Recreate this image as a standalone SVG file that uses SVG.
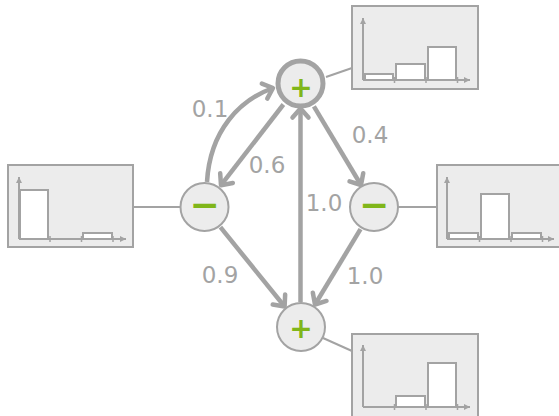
<svg xmlns="http://www.w3.org/2000/svg" width="559" height="416" viewBox="0 0 559 416">
<style>
.box{fill:#ececec;stroke:#a3a3a3;stroke-width:2}
.ax{fill:none;stroke:#a3a3a3;stroke-width:2}
.bar{fill:#ffffff;stroke:#a3a3a3;stroke-width:2}
.tick{stroke:#a3a3a3;stroke-width:1.5}
.link{stroke:#a3a3a3;stroke-width:2;fill:none}
.edge{stroke:#a3a3a3;stroke-width:4.5;fill:none;marker-end:url(#arr)}
.node{fill:#ececec;stroke:#a3a3a3;stroke-width:2}
.sym{fill:#80b61a;font-family:"DejaVu Sans",sans-serif;font-weight:bold;text-anchor:middle}
.lbl{fill:#a3a3a3;font-family:"DejaVu Sans",sans-serif;font-size:23px;text-anchor:middle}
</style>
<defs>
<marker id="arr" markerUnits="userSpaceOnUse" markerWidth="30" markerHeight="30" refX="0" refY="0" orient="auto" overflow="visible">
<path d="M-9,-8 L0,0 L-9,8" fill="none" stroke="#a3a3a3" stroke-width="4.5" stroke-linecap="round" stroke-linejoin="round"/>
</marker>
<marker id="ah" markerUnits="userSpaceOnUse" markerWidth="10" markerHeight="10" refX="0" refY="0" orient="auto" overflow="visible">
<path d="M-6,-3 L0,0 L-6,3 Z" fill="#a3a3a3"/>
</marker>
</defs>

<g id="connectors">
<line class="link" x1="133" y1="207" x2="180" y2="207"/>
<line class="link" x1="326" y1="77" x2="352" y2="68"/>
<line class="link" x1="398" y1="207" x2="437" y2="207"/>
<line class="link" x1="323" y1="338" x2="352" y2="351"/>
<path class="edge" d="M207,182 C210,130 240,100 273,88"/>
<line class="edge" x1="283.4" y1="104.5" x2="221" y2="185.2"/>
<line class="edge" x1="313.9" y1="106.3" x2="361" y2="185"/>
<line class="edge" x1="220.4" y1="227.2" x2="284.6" y2="306.5"/>
<line class="edge" x1="360.5" y1="229.2" x2="315" y2="304.5"/>
<line class="edge" x1="300.5" y1="302" x2="300.5" y2="108.5"/>
<text class="lbl" x="210" y="117">0.1</text>
<text class="lbl" x="267" y="173">0.6</text>
<text class="lbl" x="370" y="143">0.4</text>
<text class="lbl" x="324" y="211">1.0</text>
<text class="lbl" x="220" y="283">0.9</text>
<text class="lbl" x="365" y="284">1.0</text>
</g>

<g id="hist-left">
<rect class="box" x="8" y="165" width="125" height="82"/>
<rect class="bar" x="20" y="190" width="28" height="49"/>
<rect class="bar" x="83" y="233" width="29" height="6"/>
<line class="tick" x1="50" y1="236" x2="50" y2="242"/>
<line class="tick" x1="81.5" y1="236" x2="81.5" y2="242"/>
<line class="tick" x1="113" y1="236" x2="113" y2="242"/>
<path class="ax" d="M19,239 L19,177" marker-end="url(#ah)"/>
<path class="ax" d="M19,239 L126,239" marker-end="url(#ah)"/>
</g>

<g id="hist-top">
<rect class="box" x="352" y="6" width="126" height="83"/>
<rect class="bar" x="365" y="74" width="28" height="6"/>
<rect class="bar" x="396" y="64" width="29" height="16"/>
<rect class="bar" x="428" y="47" width="28" height="33"/>
<line class="tick" x1="394.5" y1="77" x2="394.5" y2="83"/>
<line class="tick" x1="426" y1="77" x2="426" y2="83"/>
<line class="tick" x1="457.5" y1="77" x2="457.5" y2="83"/>
<path class="ax" d="M363,80 L363,18" marker-end="url(#ah)"/>
<path class="ax" d="M363,80 L470,80" marker-end="url(#ah)"/>
</g>

<g id="hist-right">
<rect class="box" x="437" y="165" width="126" height="82"/>
<rect class="bar" x="449" y="233" width="29" height="6"/>
<rect class="bar" x="481" y="194" width="28" height="45"/>
<rect class="bar" x="512" y="233" width="29" height="6"/>
<line class="tick" x1="479.5" y1="236" x2="479.5" y2="242"/>
<line class="tick" x1="511" y1="236" x2="511" y2="242"/>
<line class="tick" x1="542.5" y1="236" x2="542.5" y2="242"/>
<path class="ax" d="M447,239 L447,177" marker-end="url(#ah)"/>
<path class="ax" d="M447,239 L554,239" marker-end="url(#ah)"/>
</g>

<g id="hist-bottom">
<rect class="box" x="352" y="334" width="126" height="83"/>
<rect class="bar" x="396" y="396" width="29" height="11"/>
<rect class="bar" x="428" y="363" width="28" height="44"/>
<line class="tick" x1="394.5" y1="404" x2="394.5" y2="410"/>
<line class="tick" x1="426" y1="404" x2="426" y2="410"/>
<line class="tick" x1="457.5" y1="404" x2="457.5" y2="410"/>
<path class="ax" d="M363,407 L363,345" marker-end="url(#ah)"/>
<path class="ax" d="M363,407 L470,407" marker-end="url(#ah)"/>
</g>

<g id="node-top">
<circle class="node" cx="300.5" cy="83.5" r="22.5" style="stroke-width:5"/>
<text class="sym" x="301" y="97" font-size="28">+</text>
</g>
<g id="node-left">
<circle class="node" cx="204.5" cy="207" r="24"/>
<text class="sym" x="204.5" y="217" font-size="36">−</text>
</g>
<g id="node-right">
<circle class="node" cx="374" cy="207" r="24"/>
<text class="sym" x="374" y="217" font-size="36">−</text>
</g>
<g id="node-bottom">
<circle class="node" cx="301" cy="327" r="24"/>
<text class="sym" x="301" y="337.5" font-size="28">+</text>
</g>
</svg>
